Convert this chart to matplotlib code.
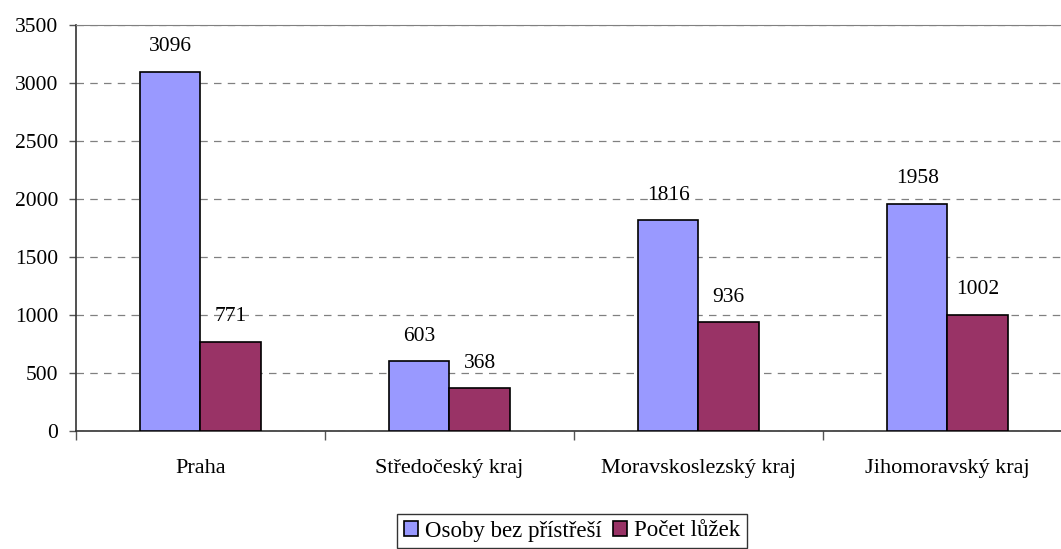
import matplotlib
matplotlib.use("Agg")
import matplotlib.pyplot as plt
import numpy as np

categories = ["Praha", "Středočeský kraj", "Moravskoslezský kraj", "Jihomoravský kraj"]
osoby = [3096, 603, 1816, 1958]
luzka = [771, 368, 936, 1002]
series_names = ["Osoby bez přístřeší", "Počet lůžek"]

plt.rcParams['font.family'] = ['Liberation Serif', 'DejaVu Serif']

fig = plt.figure(figsize=(10.61, 5.49), dpi=100)
W, H = 1061, 549
ax = fig.add_axes([76 / W, (H - 431) / H, 996 / W, 406 / H])

x = np.arange(len(categories))
bw = 0.242
b1 = ax.bar(x - bw / 2, osoby, bw, color="#9999FF", edgecolor="black", linewidth=1.2, label=series_names[0], zorder=3)
b2 = ax.bar(x + bw / 2, luzka, bw, color="#993366", edgecolor="black", linewidth=1.2, label=series_names[1], zorder=3)

for rect, v in list(zip(b1, osoby)) + list(zip(b2, luzka)):
    ax.text(rect.get_x() + rect.get_width() / 2, v + 215, str(v), ha="center", va="center", fontsize=15.5)

ax.set_xlim(-0.5, 3.5)
ax.set_ylim(0, 3500)
ax.set_yticks(np.arange(0, 3501, 500))
ax.yaxis.grid(True, linestyle=(0, (6, 5)), color="#808080", linewidth=0.9, zorder=0)
ax.set_axisbelow(True)

ax.set_xticks(np.arange(-0.5, 3.6, 1.0))
ax.set_xticklabels([])
ax.set_xticks(x, minor=True)
ax.set_xticklabels(categories, minor=True, fontsize=16)
ax.tick_params(axis="x", which="major", direction="out", length=6.5, width=1, color="#555555")
ax.tick_params(axis="x", which="minor", length=0, pad=20)
ax.tick_params(axis="y", direction="out", length=5, width=1, color="#555555", labelsize=15.5, pad=8)

ax.spines["right"].set_visible(False)
ax.spines["top"].set_color("#808080")
ax.spines["left"].set_color("#333333")
ax.spines["bottom"].set_color("#333333")
ax.spines["left"].set_linewidth(1.2)
ax.spines["bottom"].set_linewidth(1.2)

leg = fig.legend(handles=[b1, b2], labels=series_names, loc="center", bbox_to_anchor=(572 / W, (H - 531) / H),
                 ncol=2, frameon=True, fancybox=False, edgecolor="black", fontsize=16.5,
                 handlelength=0.6, handleheight=0.6, handletextpad=0.3, columnspacing=0.5,
                 borderpad=0.3, borderaxespad=0)
leg.get_frame().set_linewidth(1.0)

fig.savefig("out.png", dpi=100)
